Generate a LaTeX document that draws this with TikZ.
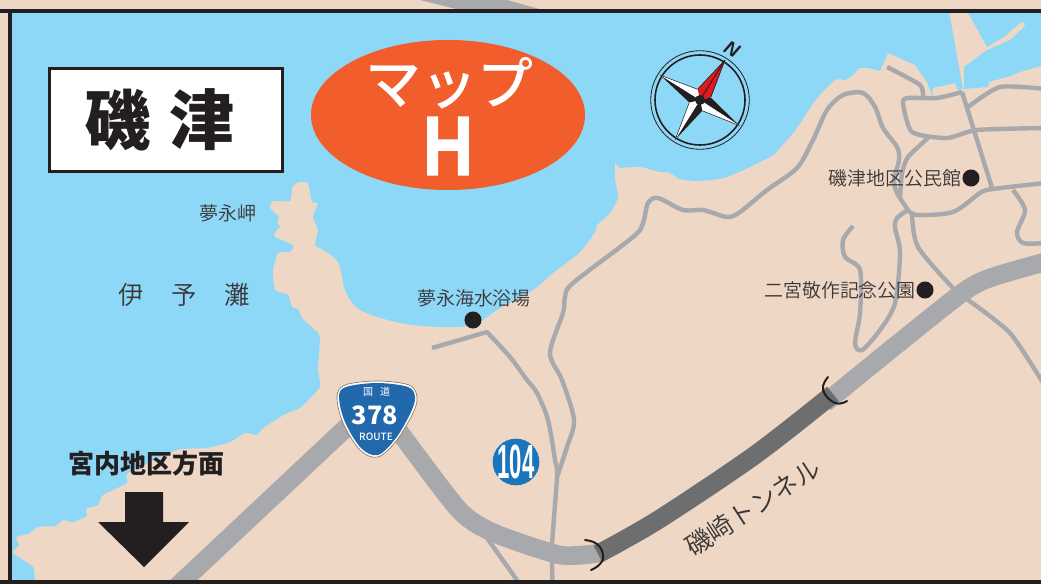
\documentclass[tikz,border=0pt]{standalone}
\usepackage{fontspec}
\usetikzlibrary{shapes.geometric}
\newfontfamily\jp{Noto Sans CJK JP}
\newfontfamily\jpthin{Noto Sans CJK JP DemiLight}
\newfontfamily\jpmed{Noto Sans CJK JP Medium}
\newfontfamily\lat{Liberation Sans}
\newfontfamily\heavy[FakeBold=1.6]{Liberation Sans Bold}
\definecolor{sea}{HTML}{8DD7F7}
\definecolor{land}{HTML}{EFD7C5}
\definecolor{road}{HTML}{A7A9AC}
\definecolor{tunnel}{HTML}{6D6E70}
\definecolor{ink}{HTML}{231F20}
\definecolor{thinink}{HTML}{3A3738}
\definecolor{oval}{HTML}{F15D2B}
\definecolor{shieldblue}{HTML}{2268AD}
\definecolor{roundblue}{HTML}{1B75BB}
\definecolor{outline}{HTML}{8C7566}
\definecolor{compred}{HTML}{E0181F}
\newcommand{\fs}[1]{\fontsize{#1}{#1}\selectfont}
\tikzset{
  thinroad/.style={draw=road,line width=3.3pt,line join=round},
  mainroad/.style={draw=road,line width=14pt,line join=round},
  tunnelroad/.style={draw=tunnel,line width=14pt},
  portal/.style={draw=ink,line width=1.5pt,line cap=round},
  label/.style={font=\jpthin\fs{14.2pt},text=thinink,inner sep=0pt},
  spot/.style={circle,fill=ink,minimum size=12.8pt,inner sep=0pt},
  whitetext/.style={text=white,inner sep=0pt}
}
\begin{document}
\begin{tikzpicture}[x=.75pt,y=-.75pt]
\useasboundingbox (0,0) rectangle (1041,584);
\fill[land] (0,0) rectangle (1041,584);
% road outside the frame
\fill[road] (420,0) -- (507,0) -- (543,10) -- (460,10) -- cycle;
% sea
\fill[sea] (10,11) -- (949,11) -- (963,89) -- (958,90) -- (955,83) -- (933,88) -- (932,96) -- (927,82) -- (915,65) -- (888,53) -- (880,71) -- (868,68) -- (859,68)
 -- plot[smooth,tension=.45] coordinates {(859,68) (853,75) (845,80) (835,80) (818,97) (810,108) (797,128) (780,148) (770,157) (727,177) (698,181) (679,179)}
 -- plot[smooth,tension=.45] coordinates {(679,179) (668,172) (660,172) (640,167) (620,168)}
 -- (615,163)
 -- plot[smooth,tension=.5] coordinates {(615,163) (615,180) (618,197) (610,213) (597,225) (595,232) (580,252) (553,273) (533,290) (500,308) (473,325) (440,327) (400,323) (360,310) (345,290) (338,262) (320,248)}
 -- plot[smooth,tension=.3] coordinates {(320,248) (315,245) (318,230) (313,217) (318,203) (312,202) (308,183) (300,182) (295,184) (292,188) (290,201) (273,201) (270,208) (279,217) (277,222) (280,227) (275,232) (275,237) (293,245) (290,252) (278,253) (273,270) (275,290) (288,295) (292,307) (298,309) (302,318) (315,330) (320,337) (318,370) (320,387) (300,408) (287,413) (263,428) (257,435) (245,433) (230,442) (207,448) (177,450) (128,473) (127,483) (103,495) (98,505) (86,509) (87,516) (73,522) (63,520) (55,526) (38,527) (28,534) (16,537) (19,545) (13,553) (33,567) (35,582)}
 -- (10,582) -- cycle;
\fill[sea] (967,11) -- (987,47) -- (1004,37) -- (1021,22) -- (1024,23) -- (1025,26) -- (1010,40) -- (987,50) -- (964,67) -- (964,89) -- (988,87) -- (989,82) -- (1007,77) -- (1020,72) -- (1041,66) -- (1041,11) -- cycle;
\begin{scope}
\clip (0,11) rectangle (1041,582);
% thin roads
\draw[thinroad] plot[smooth,tension=.5] coordinates {(432,348) (487,332)} -- plot[smooth,tension=.5] coordinates {(487,332) (510,357) (527,380) (537,393) (548,420) (555,460) (557,477) (552,547) (553,590)};
\draw[thinroad] plot[smooth,tension=.5] coordinates {(557,477) (567,447) (574,420) (562,380) (550,353) (563,313) (565,297) (573,283) (633,237) (643,223) (648,203) (658,198) (683,210) (703,210) (727,217) (740,212) (767,190) (797,168) (813,140) (827,110) (843,95) (863,93) (875,107) (883,128) (897,147) (899,160) (894,180) (897,193) (908,210)};
\draw[thinroad] plot[smooth,tension=.5] coordinates {(908,210) (897,218) (895,228) (900,253) (895,303) (880,330) (862,350) (855,343) (860,313) (860,270) (845,257) (843,240) (853,226)};
\draw[thinroad] plot[smooth,tension=.5] coordinates {(908,210) (917,215) (953,212) (980,193) (993,189) (1045,183)};
\draw[thinroad] plot[smooth,tension=.5] coordinates {(912,213) (918,247) (953,288)};
\draw[thinroad] plot[smooth,tension=.4] coordinates {(968,300) (1010,333) (1045,386)};
\draw[thinroad] plot[smooth,tension=.5] coordinates {(1013,190) (1025,210) (1017,232) (1023,243) (1045,243)};
\draw[thinroad] plot[smooth,tension=.4] coordinates {(887,67) (920,85) (923,98)};
\draw[thinroad] (962,92) -- (992,188);
\draw[thinroad] plot[smooth,tension=.4] coordinates {(962,92) (937,98) (908,98) (903,103) (912,132) (947,138) (977,130) (1045,128)};
\draw[thinroad] plot[smooth,tension=.4] coordinates {(968,107) (1000,87) (1045,89)};
\draw[thinroad] plot[smooth,tension=.4] coordinates {(928,138) (908,157) (902,173) (900,198)};
\draw[thinroad] (487,538) -- (524,590);
% route 378
\draw[mainroad] (169,594) -- (349,425);
\draw[mainroad] plot[smooth,tension=.4] coordinates {(398,430) (459,510) (494,533) (560,555) (600,553)};
\draw[mainroad] plot[smooth,tension=.5] coordinates {(825,403) (900,342) (962,293) (990,278) (1045,262)};
\draw[tunnelroad] plot[smooth,tension=.5] coordinates {(598,554) (658,520) (755,455) (833,394)};
\end{scope}
\draw[portal] plot[smooth,tension=.8] coordinates {(585,540) (597,544) (603,555) (600,564) (591,570)};
\draw[portal] plot[smooth,tension=.8] coordinates {(828,377) (823,390) (835,403) (847,401)};
% title box
\node[draw=ink,line width=2.3pt,fill=white,minimum width=175pt,minimum height=77pt,inner sep=0pt] (titlebox) at (166,120) {};
\node[font=\jp\bfseries\fs{49pt},text=ink,inner sep=0pt] (titleA) at (118,120) {磯};
\node[font=\jp\bfseries\fs{49pt},text=ink,inner sep=0pt] (titleB) at (202,120) {津};
% oval
\node[ellipse,fill=oval,minimum width=205.5pt,minimum height=112.5pt,inner sep=0pt] (mapoval) at (448,115) {};
\node[whitetext,font=\jpmed\fs{42pt}] (maplabel) at (449,83) {マップ};
\node[whitetext,font=\heavy\fs{63pt},xscale=.82] (mapH) at (448,146) {H};
% compass
\begin{scope}[shift={(700,100)}]
\draw[ink,line width=.6pt] (0,0) circle (49.3);
\draw[ink,line width=1.2pt] (0,0) circle (45);
\fill[compred] (-58:47) -- (-103:11) -- (0,0) -- (-13:11) -- cycle;
\draw[ink,line width=.7pt] (-58:47) -- (0,0);
\draw[ink,line width=.5pt] (-58:47) -- (-103:11) (-58:47) -- (-13:11);
\fill[ink] (33:47) -- (-13:11) -- (0,0) -- cycle;
\fill[white] (33:47) -- (78:11) -- (0,0) -- cycle;
\draw[ink,line width=.4pt] (33:47) -- (78:11);
\fill[ink] (122:47) -- (78:11) -- (0,0) -- cycle;
\fill[white] (122:47) -- (167:11) -- (0,0) -- cycle;
\draw[ink,line width=.4pt] (122:47) -- (167:11);
\fill[ink] (212:47) -- (167:11) -- (0,0) -- cycle;
\fill[white] (212:47) -- (-103:11) -- (0,0) -- cycle;
\draw[ink,line width=.4pt] (212:47) -- (-103:11);
\fill[ink] (0,0) circle (5);
\end{scope}
\node[font=\lat\bfseries\itshape\fs{14.5pt},text=ink,rotate=-30,inner sep=0pt] (north) at (732,49) {N};
% labels
\node[label] (cape) at (228,213) {夢永岬};
\node[label,font=\jpthin\fs{19pt}] (iyoA) at (131,295) {伊};
\node[label,font=\jpthin\fs{19pt}] (iyoB) at (184,295) {予};
\node[label,font=\jpthin\fs{19pt}] (iyoC) at (237,295) {灘};
\node[label] (beach) at (474,298) {夢永海水浴場};
\node[spot] (beachdot) at (473,320) {};
\node[label] (hall) at (895,178) {磯津地区公民館};
\node[spot] (halldot) at (971,178) {};
\node[label] (park) at (840,290) {二宮敬作記念公園};
\node[spot] (parkdot) at (925,290) {};
\node[font=\jp\bfseries\fs{19.5pt},text=ink,inner sep=0pt] (direction) at (146,464) {宮内地区方面};
\node[label,font=\jpthin\fs{19.5pt},rotate=33] (tunnelname) at (753,507) {磯崎トンネル};
% arrow
\fill[ink] (125,492) -- (163,492) -- (163,522) -- (189,522) -- (144,567) -- (98,522) -- (125,522) -- cycle;
% shield
\filldraw[draw=outline,fill=white,line width=.5pt] plot[smooth cycle,tension=.55] coordinates {(337,397) (345,385) (377,381) (409,385) (417,397) (413,413) (397,440) (378,457) (360,450) (343,423)};
\fill[shieldblue] plot[smooth cycle,tension=.55] coordinates {(339,397) (346,387) (377,383) (408,387) (415,397) (411,412) (396,438) (378,455) (361,448) (345,422)};
\node[whitetext,font=\jp\fs{7.5pt}] (kokuA) at (368,392) {国};
\node[whitetext,font=\jp\fs{7.5pt}] (kokuB) at (385,392) {道};
\node[whitetext,font=\jp\bfseries\fs{19pt}] (routeno) at (375,415) {378};
\node[whitetext,font=\jpmed\fs{7.5pt}] (routeword) at (376,437) {ROUTE};
% 104
\node[circle,fill=roundblue,minimum size=35pt,inner sep=0pt] (pref) at (516,462) {};
\node[whitetext,font=\lat\bfseries\fs{36pt},xscale=.46] (prefno) at (516,462) {104};
% frame
\draw[ink,line width=2.3pt] (0,11) -- (1041,11);
\draw[ink,line width=2.3pt] (0,582) -- (1041,582);
\draw[ink,line width=2.3pt] (10,11) -- (10,582);
\end{tikzpicture}
\end{document}
